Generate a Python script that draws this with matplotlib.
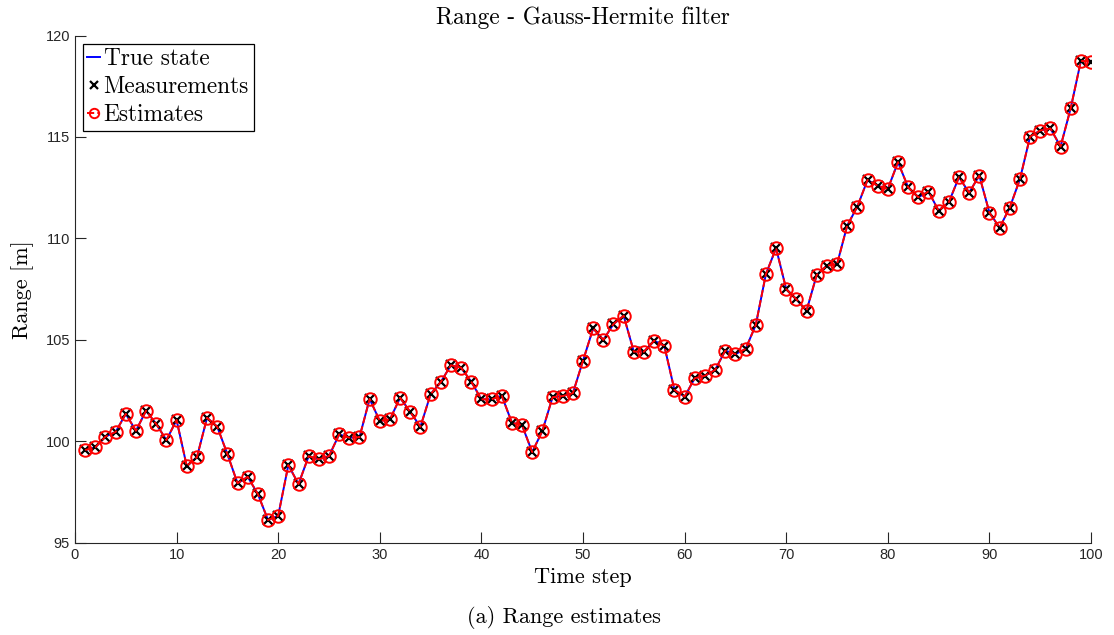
import matplotlib
import matplotlib.pyplot as plt
import numpy as np

matplotlib.use("Agg")

SERIF = "cmr10"
SANS = "Liberation Sans"

time_step = np.arange(1, 101)

# range readings per time step [m]
range_true = [
    99.57, 99.70, 100.23, 100.46, 101.35, 100.52, 101.51, 100.85, 100.06, 101.05,
    98.78, 99.21, 101.16, 100.72, 99.37, 97.93, 98.25, 97.40, 96.12, 96.33,
    98.83, 97.89, 99.27, 99.11, 99.27, 100.34, 100.18, 100.20, 102.09, 101.00,
    101.08, 102.15, 101.44, 100.72, 102.32, 102.92, 103.75, 103.63, 102.94, 102.07,
    102.07, 102.25, 100.92, 100.79, 99.47, 100.51, 102.17, 102.23, 102.37, 103.97,
    105.57, 105.00, 105.78, 106.19, 104.42, 104.42, 104.96, 104.71, 102.53, 102.20,
    103.11, 103.23, 103.52, 104.47, 104.30, 104.55, 105.73, 108.24, 109.52, 107.50,
    107.00, 106.44, 108.20, 108.66, 108.73, 110.63, 111.57, 112.88, 112.60, 112.44,
    113.76, 112.52, 112.03, 112.31, 111.37, 111.78, 113.02, 112.26, 113.10, 111.27,
    110.53, 111.52, 112.92, 115.02, 115.32, 115.42, 114.53, 116.42, 118.75, 118.72,
]
range_meas = list(range_true)
range_est = list(range_true)

fig = plt.figure(figsize=(11.14, 6.35), dpi=100)
ax = fig.add_axes([0.0673, 0.1453, 0.9121, 0.7987])

ax.plot(time_step, range_true, color="blue", linewidth=1.4, label="True state")
ax.plot(time_step, range_meas, linestyle="none", marker="x", color="black",
        markersize=7, markeredgewidth=1.6, label="Measurements")
ax.plot(time_step, range_est, linestyle="--", color="red", linewidth=1.4,
        marker="o", markersize=9, markerfacecolor="none", markeredgewidth=1.4,
        label="Estimates")

ax.set_xlim(0, 100)
ax.set_ylim(95, 120)
ax.set_xticks(np.arange(0, 101, 10))
ax.set_yticks(np.arange(95, 121, 5))

for side in ("top", "right"):
    ax.spines[side].set_visible(False)
for side in ("left", "bottom"):
    ax.spines[side].set_color("#262626")
    ax.spines[side].set_linewidth(0.8)
ax.tick_params(direction="in", length=8, width=0.8, color="#262626",
               labelsize=10.5, labelcolor="#262626")
for lbl in ax.get_xticklabels() + ax.get_yticklabels():
    lbl.set_fontfamily(SANS)

ax.set_title("Range - Gauss-Hermite filter", fontfamily=SERIF, fontsize=16.8, pad=8)
ax.set_xlabel("Time step", fontfamily=SERIF, fontsize=16, labelpad=4)
ax.set_ylabel("Range [m]", fontfamily=SERIF, fontsize=16, labelpad=8)

leg = ax.legend(loc="upper left", bbox_to_anchor=(0.0075, 0.984),
                prop={"family": SERIF, "size": 16.8}, handlelength=0.55,
                handletextpad=0.15, borderpad=0.2, labelspacing=0.25,
                markerscale=0.75, fancybox=False, framealpha=1,
                borderaxespad=0)
leg.get_frame().set_edgecolor("black")
leg.get_frame().set_linewidth(0.9)

fig.text(0.506, 0.028, "(a) Range estimates", fontfamily=SERIF, fontsize=16,
         ha="center", va="center")

fig.savefig("out.png", dpi=100)
plt.close(fig)
